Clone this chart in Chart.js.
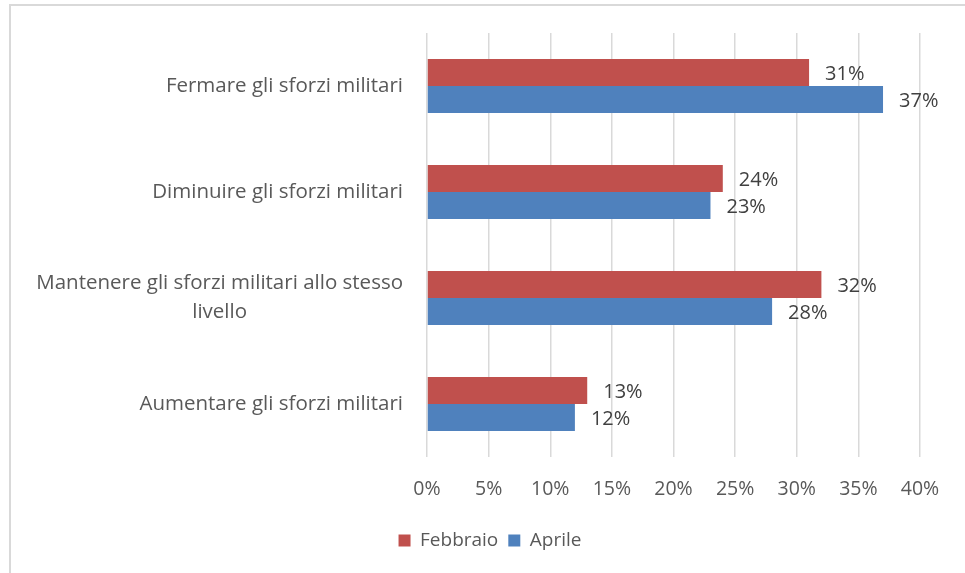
<!DOCTYPE html>
<html lang="it">
<head>
<meta charset="utf-8">
<title>Sforzi militari</title>
<script src="https://cdn.jsdelivr.net/npm/chart.js@4.4.1/dist/chart.umd.min.js"></script>
<style>
    html, body { margin: 0; padding: 0; background: #ffffff; }
    #cornice {
        position: absolute; left: 9px; top: 4px; width: 970px; height: 580px;
        border-top: 2px solid #d9d9d9; border-left: 2px solid #d9d9d9;
        pointer-events: none;
    }
    #zona { position: relative; width: 965px; height: 573px; }
</style>
</head>
<body>
<div id="zona">
    <canvas id="grafico" width="965" height="573"></canvas>
</div>
<div id="cornice"></div>
<script>
// ==========================================
//  DATI
// ==========================================
const categorie = [
    ["Fermare gli sforzi militari"],
    ["Diminuire gli sforzi militari"],
    ["Mantenere gli sforzi militari allo stesso", "livello"],
    ["Aumentare gli sforzi militari"]
];
const febbraio = [31, 24, 32, 13];
const aprile = [37, 23, 28, 12];
const tickPercentuali = [0, 5, 10, 15, 20, 25, 30, 35, 40];

const FONT = "'Open Sans', Lato, sans-serif";

// etichette delle categorie: blocco allineato a destra, righe centrate
const etichetteCategorie = {
    id: 'etichetteCategorie',
    afterDraw(chart) {
        const ctx = chart.ctx;
        const scalaY = chart.scales.y;
        const destra = chart.chartArea.left - 24;
        ctx.save();
        ctx.font = "20.5px " + FONT;
        ctx.fillStyle = '#595959';
        ctx.textAlign = 'center';
        ctx.textBaseline = 'middle';
        categorie.forEach((righe, i) => {
            const centroY = scalaY.getPixelForTick(i);
            const larghezza = Math.max(...righe.map(r => ctx.measureText(r).width));
            const centroX = destra - larghezza / 2;
            const interlinea = 29;
            const inizio = centroY - (righe.length - 1) * interlinea / 2;
            righe.forEach((r, k) => ctx.fillText(r, centroX, inizio + k * interlinea));
        });
        ctx.restore();
    }
};

// etichette dei valori a destra delle barre
const etichetteValori = {
    id: 'etichetteValori',
    afterDatasetsDraw(chart) {
        const ctx = chart.ctx;
        ctx.save();
        ctx.font = "20px " + FONT;
        ctx.fillStyle = '#404040';
        ctx.textAlign = 'left';
        ctx.textBaseline = 'middle';
        chart.data.datasets.forEach((ds, d) => {
            chart.getDatasetMeta(d).data.forEach((barra, i) => {
                ctx.fillText(ds.data[i] + '%', barra.x + 16, barra.y + 2);
            });
        });
        ctx.restore();
    }
};

new Chart(document.getElementById('grafico'), {
    type: 'bar',
    data: {
        labels: categorie,
        datasets: [
            { label: 'Febbraio', data: febbraio, backgroundColor: '#C0504D' },
            { label: 'Aprile', data: aprile, backgroundColor: '#4F81BD' }
        ]
    },
    options: {
        indexAxis: 'y',
        responsive: false,
        animation: false,
        layout: { padding: { top: 33, right: 45, left: 60, bottom: 13 } },
        datasets: { bar: { categoryPercentage: 0.51, barPercentage: 1 } },
        plugins: {
            legend: {
                position: 'bottom',
                labels: {
                    boxWidth: 12, boxHeight: 12, padding: 10,
                    color: '#595959',
                    font: { family: FONT, size: 19 }
                }
            },
            tooltip: { enabled: false }
        },
        scales: {
            x: {
                min: 0, max: 40,
                afterBuildTicks: (scala) => { scala.ticks = tickPercentuali.map(v => ({ value: v })); },
                afterFit: (scala) => { scala.height = 64; },
                grid: { color: '#d9d9d9', lineWidth: 1.5, drawTicks: false },
                border: { display: false },
                ticks: {
                    padding: 21,
                    color: '#595959',
                    font: { family: FONT, size: 19.5 },
                    callback: (v) => v + '%'
                }
            },
            y: {
                afterFit: (scala) => { scala.width = 427 - 60; },
                grid: { display: false },
                border: { display: false },
                ticks: { display: false }
            }
        }
    },
    plugins: [etichetteCategorie, etichetteValori]
});
</script>
</body>
</html>
